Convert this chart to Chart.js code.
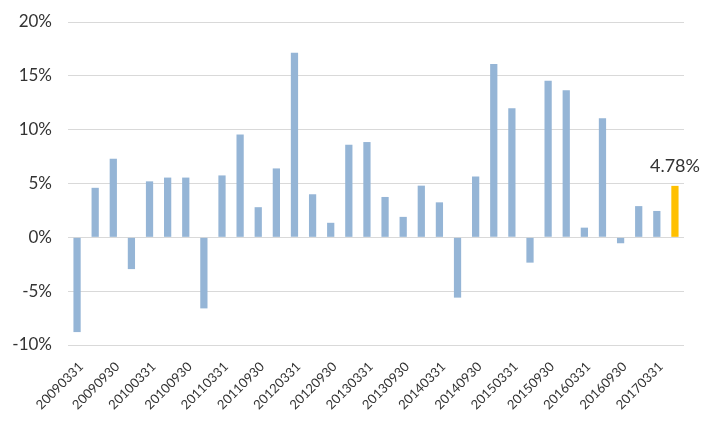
<!DOCTYPE html>
<html>
<head>
<meta charset="utf-8">
<script src="https://cdn.jsdelivr.net/npm/chart.js@4/dist/chart.umd.min.js"></script>
<style>
html,body{margin:0;padding:0;background:#fff;}
#wrap{width:702px;height:423px;position:relative;}
</style>
</head>
<body>
<div id="wrap"><canvas id="c" width="702" height="423"></canvas></div>
<script>
const categories = [
  "20090331","20090630","20090930","20091231",
  "20100331","20100630","20100930","20101231",
  "20110331","20110630","20110930","20111231",
  "20120331","20120630","20120930","20121231",
  "20130331","20130630","20130930","20131231",
  "20140331","20140630","20140930","20141231",
  "20150331","20150630","20150930","20151231",
  "20160331","20160630","20160930","20161231",
  "20170331","20170630"
];
const values = [
  -8.8, 4.6, 7.3, -2.95,
  5.2, 5.55, 5.55, -6.6,
  5.75, 9.55, 2.8, 6.4,
  17.15, 4.0, 1.35, 8.6,
  8.85, 3.75, 1.9, 4.8,
  3.25, -5.6, 5.65, 16.1,
  12.0, -2.35, 14.55, 13.65,
  0.9, 11.05, -0.55, 2.9,
  2.45, 4.78
];
const yTicks = [-10, -5, 0, 5, 10, 15, 20];
const highlightLabel = "4.78%";

const baseColor = "#95B5D6";
const highlightColor = "#FFC000";
const colors = values.map((v, i) => i === values.length - 1 ? highlightColor : baseColor);

const labelPlugin = {
  id: 'lastLabel',
  afterDatasetsDraw(chart) {
    const ctx = chart.ctx;
    const meta = chart.getDatasetMeta(0);
    const last = meta.data[meta.data.length - 1];
    const y = chart.scales.y.getPixelForValue(values[values.length - 1]);
    ctx.save();
    ctx.font = '18px Lato';
    ctx.fillStyle = '#333333';
    ctx.textAlign = 'center';
    ctx.textBaseline = 'alphabetic';
    ctx.fillText(highlightLabel, last.x, y - 14);
    ctx.restore();
  }
};

new Chart(document.getElementById('c'), {
  type: 'bar',
  data: {
    labels: categories,
    datasets: [{
      data: values,
      backgroundColor: colors,
      borderWidth: 0,
      barPercentage: 0.4,
      categoryPercentage: 1.0
    }]
  },
  options: {
    responsive: false,
    animation: false,
    devicePixelRatio: 1,
    layout: { padding: { left: 9, right: 18, top: 22, bottom: 0 } },
    plugins: { legend: { display: false }, tooltip: { enabled: false } },
    scales: {
      x: {
        grid: { display: false, drawTicks: false },
        border: { display: false },
        afterFit: (s) => { s.paddingLeft = 0; s.paddingRight = 0; s.height = 78; },
        ticks: {
          autoSkip: false,
          maxRotation: 45,
          minRotation: 45,
          padding: 14,
          labelOffset: 4,
          color: '#333333',
          font: { family: 'Lato', size: 13 },
          callback: function(val, idx) { return idx % 2 === 0 ? categories[idx] : ''; }
        }
      },
      y: {
        min: -10, max: 20,
        afterBuildTicks: (axis) => { axis.ticks = yTicks.map(v => ({ value: v })); },
        afterFit: (s) => { s.width = 59; s.paddingTop = 0; s.paddingBottom = 0; },
        grid: { color: '#D9D9D9', drawTicks: false, lineWidth: 1 },
        border: { display: false },
        ticks: {
          padding: 16,
          color: '#333333',
          font: { family: 'Lato', size: 17 },
          callback: (v) => v + '%'
        }
      }
    }
  },
  plugins: [labelPlugin]
});
</script>
</body>
</html>
